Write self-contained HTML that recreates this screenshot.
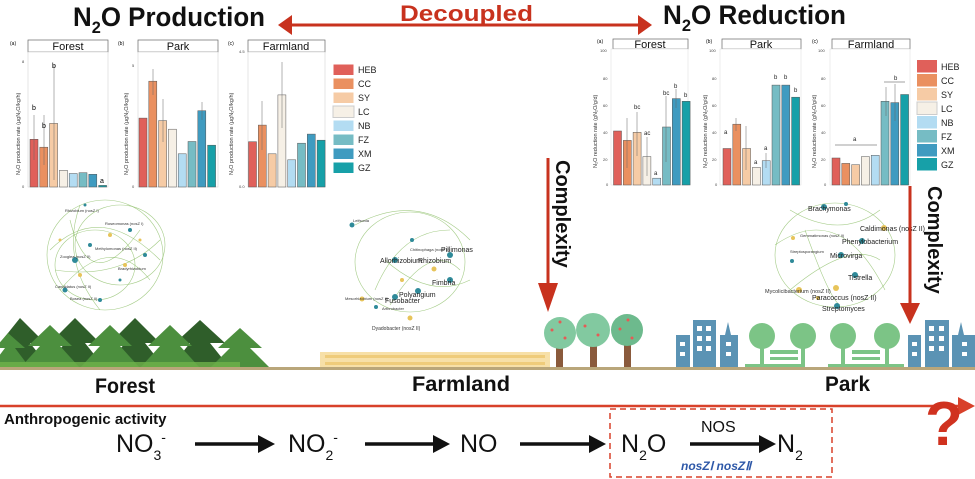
<!DOCTYPE html>
<html><head><meta charset="utf-8"><style>
html,body{margin:0;padding:0;background:#fff}
svg{display:block}
text{font-family:"Liberation Sans",sans-serif}
.ax{font-size:4px;fill:#444}
.hd{font-size:11px;fill:#111}
.lg{font-size:9px;fill:#222}
.b rect{stroke:#555;stroke-width:0.5}
.net path,.net ellipse{fill:none;stroke:#8fbf6a;stroke-width:0.6;opacity:.8}
.nt{font-family:"Liberation Serif",serif;font-size:4px;fill:#333}
.nb{font-family:"Liberation Serif",serif;font-size:7px;fill:#222}
</style></head><body>
<svg width="975" height="479" viewBox="0 0 975 479" xmlns="http://www.w3.org/2000/svg">
<!-- titles -->
<text x="73" y="26" font-size="27" font-weight="bold" fill="#111" textLength="192" lengthAdjust="spacingAndGlyphs">N<tspan font-size="17" dy="7">2</tspan><tspan dy="-7">O Production</tspan></text>
<text x="663" y="24" font-size="27" font-weight="bold" fill="#111" textLength="183" lengthAdjust="spacingAndGlyphs">N<tspan font-size="17" dy="7">2</tspan><tspan dy="-7">O Reduction</tspan></text>
<text x="400" y="21" font-size="22" font-weight="bold" fill="#c8321e" textLength="133" lengthAdjust="spacingAndGlyphs">Decoupled</text>
<line x1="290" y1="25" x2="640" y2="25" stroke="#c8321e" stroke-width="3"/>
<polygon points="278,25 292,15 292,35" fill="#c8321e"/>
<polygon points="652,25 638,15 638,35" fill="#c8321e"/>

<!-- LEFT CHARTS -->
<g>
<text x="10" y="45" font-size="5">(a)</text><text x="118" y="45" font-size="5">(b)</text><text x="228" y="45" font-size="5">(c)</text>
<rect x="28" y="40" width="80" height="12" fill="#fff" stroke="#666" stroke-width="0.7"/><text x="68" y="50" class="hd" text-anchor="middle">Forest</text>
<rect x="138" y="40" width="80" height="12" fill="#fff" stroke="#666" stroke-width="0.7"/><text x="178" y="50" class="hd" text-anchor="middle">Park</text>
<rect x="248" y="40" width="77" height="12" fill="#fff" stroke="#666" stroke-width="0.7"/><text x="286" y="50" class="hd" text-anchor="middle">Farmland</text>
<rect x="28" y="52" width="80" height="135" fill="#fff" stroke="#ccc" stroke-width="0.5"/>
<rect x="138" y="52" width="80" height="135" fill="#fff" stroke="#ccc" stroke-width="0.5"/>
<rect x="248" y="52" width="77" height="135" fill="#fff" stroke="#ccc" stroke-width="0.5"/>
<text transform="translate(20,175) rotate(-90)" font-size="5.5" fill="#333">N₂O production rate (μgN₂O/kg/h)</text>
<text transform="translate(128,175) rotate(-90)" font-size="5.5" fill="#333">N₂O production rate (μgN₂O/kg/h)</text>
<text transform="translate(233,175) rotate(-90)" font-size="5.5" fill="#333">N₂O production rate (μgN₂O/kg/h)</text>
<g class="b">
<rect x="30" y="139.3" width="8" height="47.7" fill="#e0605a"/><rect x="39.8" y="147.2" width="8" height="39.8" fill="#ea9060"/><rect x="49.6" y="123.4" width="8" height="63.6" fill="#f6cba5"/><rect x="59.4" y="170.3" width="8" height="16.7" fill="#f6f0e6"/><rect x="69.2" y="173.5" width="8" height="13.5" fill="#b3dcf2"/><rect x="79" y="172.7" width="8" height="14.3" fill="#76bcc4"/><rect x="88.8" y="174.3" width="8" height="12.7" fill="#3f9bc0"/><rect x="98.6" y="185.4" width="8" height="1.6" fill="#17a0a8"/>
<rect x="139" y="118.1" width="8" height="68.9" fill="#e0605a"/><rect x="148.8" y="81.2" width="8" height="105.8" fill="#ea9060"/><rect x="158.6" y="120.6" width="8" height="66.4" fill="#f6cba5"/><rect x="168.4" y="129.2" width="8" height="57.8" fill="#f6f0e6"/><rect x="178.2" y="153.8" width="8" height="33.2" fill="#b3dcf2"/><rect x="188" y="141.5" width="8" height="45.5" fill="#76bcc4"/><rect x="197.8" y="110.7" width="8" height="76.3" fill="#3f9bc0"/><rect x="207.6" y="145.2" width="8" height="41.8" fill="#17a0a8"/>
<rect x="248.5" y="141.7" width="8" height="45.3" fill="#e0605a"/><rect x="258.3" y="125.1" width="8" height="61.9" fill="#ea9060"/><rect x="268.1" y="153.8" width="8" height="33.2" fill="#f6cba5"/><rect x="277.9" y="94.9" width="8" height="92.1" fill="#f6f0e6"/><rect x="287.7" y="159.8" width="8" height="27.2" fill="#b3dcf2"/><rect x="297.5" y="143.2" width="8" height="43.8" fill="#76bcc4"/><rect x="307.3" y="134.1" width="8" height="52.9" fill="#3f9bc0"/><rect x="317.1" y="140.2" width="8" height="46.8" fill="#17a0a8"/>
</g>
<g stroke="#666" stroke-width="0.5">
<line x1="34" y1="115" x2="34" y2="160"/><line x1="44" y1="115" x2="44" y2="165"/><line x1="54" y1="65" x2="54" y2="180"/>
<line x1="153" y1="69" x2="153" y2="95"/><line x1="163" y1="99" x2="163" y2="142"/><line x1="202" y1="102" x2="202" y2="120"/>
<line x1="282" y1="62" x2="282" y2="128"/><line x1="262" y1="101" x2="262" y2="150"/>
</g>
<text x="32" y="110" font-size="7">b</text><text x="42" y="128" font-size="7">b</text><text x="52" y="68" font-size="7">b</text><text x="100" y="183" font-size="7">a</text>
<g class="ax"><text x="22" y="63">8</text><text x="22" y="188">0</text><text x="132" y="67">5</text><text x="132" y="188">0</text><text x="239" y="53">4.5</text><text x="239" y="188">0.0</text></g>
<g>
<rect x="333" y="64" width="21" height="11.5" fill="#e0605a" stroke="#fff"/><text x="358" y="73" class="lg">HEB</text>
<rect x="333" y="78" width="21" height="11.5" fill="#ea9060" stroke="#fff"/><text x="358" y="87" class="lg">CC</text>
<rect x="333" y="92" width="21" height="11.5" fill="#f6cba5" stroke="#fff"/><text x="358" y="101" class="lg">SY</text>
<rect x="333" y="106" width="21" height="11.5" fill="#f6f0e6" stroke="#ccc"/><text x="358" y="115" class="lg">LC</text>
<rect x="333" y="120" width="21" height="11.5" fill="#b3dcf2" stroke="#fff"/><text x="358" y="129" class="lg">NB</text>
<rect x="333" y="134" width="21" height="11.5" fill="#76bcc4" stroke="#fff"/><text x="358" y="143" class="lg">FZ</text>
<rect x="333" y="148" width="21" height="11.5" fill="#3f9bc0" stroke="#fff"/><text x="358" y="157" class="lg">XM</text>
<rect x="333" y="162" width="21" height="11.5" fill="#17a0a8" stroke="#fff"/><text x="358" y="171" class="lg">GZ</text>
</g>
</g>

<!-- RIGHT CHARTS -->
<g>
<text x="597" y="43" font-size="5">(a)</text><text x="706" y="43" font-size="5">(b)</text><text x="812" y="43" font-size="5">(c)</text>
<rect x="613" y="39" width="75" height="10" fill="#fff" stroke="#666" stroke-width="0.7"/><text x="650" y="48" class="hd" text-anchor="middle">Forest</text>
<rect x="722" y="39" width="79" height="10" fill="#fff" stroke="#666" stroke-width="0.7"/><text x="761" y="48" class="hd" text-anchor="middle">Park</text>
<rect x="832" y="39" width="78" height="10" fill="#fff" stroke="#666" stroke-width="0.7"/><text x="871" y="48" class="hd" text-anchor="middle">Farmland</text>
<rect x="611" y="49" width="77" height="136" fill="#fff" stroke="#ddd" stroke-width="0.5"/>
<rect x="720" y="49" width="81" height="136" fill="#fff" stroke="#ddd" stroke-width="0.5"/>
<rect x="830" y="49" width="80" height="136" fill="#fff" stroke="#ddd" stroke-width="0.5"/>
<text transform="translate(597,168) rotate(-90)" font-size="5.5" fill="#333">N₂O reduction rate (gN₂O/g/d)</text>
<text transform="translate(707,168) rotate(-90)" font-size="5.5" fill="#333">N₂O reduction rate (gN₂O/g/d)</text>
<text transform="translate(816,168) rotate(-90)" font-size="5.5" fill="#333">N₂O reduction rate (gN₂O/g/d)</text>
<g class="ax"><text x="600" y="52">100</text><text x="603" y="80">80</text><text x="603" y="107">60</text><text x="603" y="134">40</text><text x="603" y="161">20</text><text x="606" y="186">0</text>
<text x="709" y="52">100</text><text x="712" y="80">80</text><text x="712" y="107">60</text><text x="712" y="134">40</text><text x="712" y="161">20</text><text x="715" y="186">0</text>
<text x="818" y="52">100</text><text x="821" y="80">80</text><text x="821" y="107">60</text><text x="821" y="134">40</text><text x="821" y="161">20</text><text x="824" y="186">0</text></g>
<g class="b">
<rect x="613.5" y="131" width="8" height="54" fill="#e0605a"/><rect x="623.3" y="140.4" width="8" height="44.6" fill="#ea9060"/><rect x="633.1" y="132.3" width="8" height="52.7" fill="#f6cba5"/><rect x="642.9" y="156.6" width="8" height="28.4" fill="#f6f0e6"/><rect x="652.7" y="178.2" width="8" height="6.8" fill="#b3dcf2"/><rect x="662.5" y="127" width="8" height="58" fill="#76bcc4"/><rect x="672.3" y="98.6" width="8" height="86.4" fill="#3f9bc0"/><rect x="682.1" y="101.3" width="8" height="83.7" fill="#17a0a8"/>
<rect x="723" y="148.5" width="8" height="36.5" fill="#e0605a"/><rect x="732.8" y="124.2" width="8" height="60.8" fill="#ea9060"/><rect x="742.6" y="148.5" width="8" height="36.5" fill="#f6cba5"/><rect x="752.4" y="167.4" width="8" height="17.6" fill="#f6f0e6"/><rect x="762.2" y="160.7" width="8" height="24.3" fill="#b3dcf2"/><rect x="772" y="85.1" width="8" height="99.9" fill="#76bcc4"/><rect x="781.8" y="85.1" width="8" height="99.9" fill="#3f9bc0"/><rect x="791.6" y="97.2" width="8" height="87.8" fill="#17a0a8"/>
<rect x="832" y="158" width="8" height="27" fill="#e0605a"/><rect x="841.8" y="163.4" width="8" height="21.6" fill="#ea9060"/><rect x="851.6" y="164.7" width="8" height="20.3" fill="#f6cba5"/><rect x="861.4" y="156.6" width="8" height="28.4" fill="#f6f0e6"/><rect x="871.2" y="155.3" width="8" height="29.7" fill="#b3dcf2"/><rect x="881" y="101.3" width="8" height="83.7" fill="#76bcc4"/><rect x="890.8" y="102.6" width="8" height="82.4" fill="#3f9bc0"/><rect x="900.6" y="94.5" width="8" height="90.5" fill="#17a0a8"/>
</g>
<g stroke="#666" stroke-width="0.5">
<line x1="627" y1="118" x2="627" y2="168"/><line x1="637" y1="112" x2="637" y2="156"/><line x1="647" y1="137" x2="647" y2="176"/><line x1="666" y1="96" x2="666" y2="162"/><line x1="676" y1="89" x2="676" y2="108"/>
<line x1="736" y1="118" x2="736" y2="131"/><line x1="746" y1="126" x2="746" y2="170"/><line x1="766" y1="153" x2="766" y2="168"/>
<line x1="886" y1="87" x2="886" y2="116"/><line x1="895" y1="84" x2="895" y2="121"/>
</g>
<g font-size="6" fill="#222"><text x="634" y="109">bc</text><text x="644" y="135">ac</text><text x="654" y="175">a</text><text x="663" y="95">bc</text><text x="674" y="88">b</text><text x="684" y="97">b</text>
<text x="724" y="134">a</text><text x="754" y="164">a</text><text x="764" y="150">a</text><text x="774" y="79">b</text><text x="784" y="79">b</text><text x="794" y="92">b</text>
<text x="853" y="141">a</text><text x="894" y="80">b</text></g>
<line x1="835" y1="145" x2="877" y2="145" stroke="#444" stroke-width="0.5"/><line x1="884" y1="82" x2="905" y2="82" stroke="#444" stroke-width="0.5"/>
<g>
<rect x="917" y="60" width="20" height="12.5" fill="#e0605a"/><text x="941" y="70" class="lg">HEB</text>
<rect x="917" y="74" width="20" height="12.5" fill="#ea9060"/><text x="941" y="84" class="lg">CC</text>
<rect x="917" y="88" width="20" height="12.5" fill="#f6cba5"/><text x="941" y="98" class="lg">SY</text>
<rect x="917" y="102" width="20" height="12.5" fill="#f6f0e6" stroke="#ccc"/><text x="941" y="112" class="lg">LC</text>
<rect x="917" y="116" width="20" height="12.5" fill="#b3dcf2"/><text x="941" y="126" class="lg">NB</text>
<rect x="917" y="130" width="20" height="12.5" fill="#76bcc4"/><text x="941" y="140" class="lg">FZ</text>
<rect x="917" y="144" width="20" height="12.5" fill="#3f9bc0"/><text x="941" y="154" class="lg">XM</text>
<rect x="917" y="158" width="20" height="12.5" fill="#17a0a8"/><text x="941" y="168" class="lg">GZ</text>
</g>
</g>

<!-- NETWORKS -->
<g class="net">
<ellipse cx="105" cy="255" rx="58" ry="55"/><ellipse cx="95" cy="265" rx="40" ry="35"/><ellipse cx="120" cy="245" rx="45" ry="40"/>
<path d="M50,250 Q100,200 160,260"/><path d="M60,290 Q110,230 150,280"/><path d="M70,220 Q90,300 140,230"/><path d="M55,270 Q120,280 160,240"/><path d="M80,205 Q60,260 100,310"/>
<ellipse cx="410" cy="262" rx="55" ry="50"/><path d="M355,225 Q420,190 470,240"/><path d="M385,260 Q430,300 470,280"/><path d="M375,290 Q400,230 450,230"/><path d="M390,305 Q430,240 460,270"/>
<ellipse cx="835" cy="255" rx="60" ry="52"/><path d="M790,210 Q840,240 880,210"/><path d="M790,290 Q850,240 880,260"/><path d="M805,230 Q830,300 840,305"/><path d="M775,245 Q840,200 885,290"/>
</g>
<g fill="#2f8a99">
<circle cx="75" cy="260" r="3"/><circle cx="90" cy="245" r="2"/><circle cx="65" cy="290" r="2.5"/><circle cx="130" cy="230" r="2"/><circle cx="145" cy="255" r="2"/><circle cx="100" cy="300" r="2"/><circle cx="85" cy="205" r="1.5"/><circle cx="120" cy="280" r="1.5"/>
<circle cx="352" cy="225" r="2.5"/><circle cx="395" cy="260" r="3"/><circle cx="412" cy="240" r="2"/><circle cx="450" cy="255" r="3"/><circle cx="450" cy="280" r="3"/><circle cx="395" cy="297" r="3"/><circle cx="418" cy="291" r="3"/><circle cx="376" cy="307" r="2"/>
<circle cx="824" cy="207" r="3"/><circle cx="846" cy="204" r="2"/><circle cx="862" cy="241" r="3"/><circle cx="841" cy="255" r="3"/><circle cx="855" cy="275" r="3"/><circle cx="837" cy="306" r="3"/><circle cx="792" cy="261" r="2"/>
</g>
<g fill="#e7c45a">
<circle cx="80" cy="275" r="2"/><circle cx="110" cy="235" r="2"/><circle cx="125" cy="265" r="2"/><circle cx="60" cy="240" r="1.5"/><circle cx="140" cy="240" r="1.5"/>
<circle cx="434" cy="269" r="2.5"/><circle cx="362" cy="299" r="2.5"/><circle cx="410" cy="318" r="2.5"/><circle cx="402" cy="280" r="2"/>
<circle cx="884" cy="228" r="3"/><circle cx="799" cy="290" r="3"/><circle cx="836" cy="288" r="3"/><circle cx="818" cy="298" r="2"/><circle cx="793" cy="238" r="2"/>
</g>
<g class="nt"><text x="60" y="258">Zooglea (nosZ II)</text><text x="95" y="250">Methylomonas (nosZ II)</text><text x="55" y="288">Candidatus (nosZ II)</text><text x="70" y="300">Bosea (nosZ II)</text><text x="105" y="225">Roseomonas (nosZ I)</text><text x="118" y="270">Bradyrhizobium</text><text x="65" y="212">Rhizobium (nosZ I)</text>
<text x="353" y="222">Leifsonia</text><text x="372" y="330" font-size="5">Dyadobacter (nosZ II)</text><text x="345" y="300">Mesorhizobium (nosZ II)</text><text x="410" y="251">Chitinophaga (nosZ II)</text><text x="382" y="310">Arthrobacter</text>
<text x="800" y="237">Gemmatimonas (nosZ II)</text><text x="765" y="293" font-size="5.5">Mycolicibacterium (nosZ II)</text><text x="790" y="253">Streptosporangium</text></g>
<g class="nb"><text x="380" y="263">Allorhizobium</text><text x="418" y="263">Rhizobium</text><text x="441" y="252">Pillimonas</text><text x="432" y="285">Fimbria</text><text x="399" y="297">Polyangium</text><text x="385" y="303">Fusobacter</text>
<text x="808" y="211">Brachymonas</text><text x="860" y="231">Caldimonas (nosZ II)</text><text x="842" y="244">Phenylobacterium</text><text x="830" y="258">Microvirga</text><text x="848" y="280">Tistrella</text><text x="812" y="300">Paracoccus (nosZ II)</text><text x="822" y="311">Streptomyces</text></g>

<!-- Complexity arrows -->
<line x1="548" y1="158" x2="548" y2="285" stroke="#c8321e" stroke-width="3"/><polygon points="538,283 558,283 548,312" fill="#c8321e"/>
<text transform="translate(556,160) rotate(90)" font-size="20" font-weight="bold" fill="#111">Complexity</text>
<line x1="910" y1="186" x2="910" y2="305" stroke="#c8321e" stroke-width="3"/><polygon points="900,303 920,303 910,324" fill="#c8321e"/>
<text transform="translate(928,186) rotate(90)" font-size="20" font-weight="bold" fill="#111">Complexity</text>

<!-- Landscape -->
<g>
<g fill="#2f5e2a">
<polygon points="20,318 45,343 30,343 50,368 -5,368 15,343 0,343"/><polygon points="75,318 100,343 85,343 105,368 45,368 65,343 50,343"/><polygon points="135,318 160,343 145,343 165,368 105,368 125,343 110,343"/><polygon points="200,320 225,343 210,343 230,368 170,368 190,343 175,343"/>
</g>
<g fill="#4c8f3e">
<polygon points="50,325 72,346 60,346 80,368 20,368 40,346 28,346"/><polygon points="110,325 132,346 120,346 140,368 80,368 100,346 88,346"/><polygon points="170,325 192,346 180,346 200,368 140,368 160,346 148,346"/><polygon points="240,328 262,348 250,348 270,368 210,368 230,348 218,348"/><polygon points="8,333 25,348 15,348 30,368 -10,368 5,348 -5,348"/>
</g>
<rect x="0" y="362" width="240" height="6" fill="#6fb24a" opacity=".8"/>
<rect x="320" y="352" width="230" height="16" fill="#f7e0a8"/>
<g fill="#e8b84e"><rect x="325" y="355" width="220" height="3" opacity=".5"/><rect x="325" y="362" width="220" height="3" opacity=".5"/></g>
<g><rect x="556" y="340" width="7" height="28" fill="#8a5a3c"/><rect x="590" y="340" width="7" height="28" fill="#8a5a3c"/><rect x="624" y="340" width="7" height="28" fill="#8a5a3c"/>
<circle cx="560" cy="333" r="16" fill="#82c9a0"/><circle cx="593" cy="330" r="17" fill="#82c9a0"/><circle cx="627" cy="330" r="16" fill="#6dba8d"/>
<g fill="#e65a55"><circle cx="552" cy="330" r="1.5"/><circle cx="565" cy="338" r="1.5"/><circle cx="585" cy="326" r="1.5"/><circle cx="598" cy="335" r="1.5"/><circle cx="620" cy="329" r="1.5"/><circle cx="632" cy="338" r="1.5"/><circle cx="560" cy="322" r="1.5"/><circle cx="628" cy="320" r="1.5"/></g></g>
<g fill="#5b93b4">
<rect x="676" y="335" width="14" height="33"/><rect x="693" y="320" width="23" height="48"/><polygon points="720,368 720,335 725,335 728,322 731,335 738,335 738,368"/>
<rect x="908" y="335" width="13" height="33"/><rect x="925" y="320" width="24" height="48"/><polygon points="952,368 952,335 958,335 961,322 964,335 975,335 975,368"/>
</g>
<g fill="#fff"><rect x="697" y="326" width="5" height="5"/><rect x="706" y="326" width="5" height="5"/><rect x="697" y="336" width="5" height="5"/><rect x="706" y="336" width="5" height="5"/><rect x="697" y="346" width="5" height="5"/><rect x="706" y="346" width="5" height="5"/><rect x="680" y="342" width="5" height="4"/><rect x="680" y="352" width="5" height="4"/><rect x="726" y="342" width="5" height="4"/><rect x="726" y="352" width="5" height="4"/>
<rect x="929" y="326" width="5" height="5"/><rect x="939" y="326" width="5" height="5"/><rect x="929" y="336" width="5" height="5"/><rect x="939" y="336" width="5" height="5"/><rect x="929" y="346" width="5" height="5"/><rect x="939" y="346" width="5" height="5"/><rect x="912" y="342" width="5" height="4"/><rect x="912" y="352" width="5" height="4"/><rect x="962" y="342" width="5" height="4"/><rect x="962" y="352" width="5" height="4"/></g>
<g fill="#7cc486">
<circle cx="762" cy="336" r="13"/><circle cx="803" cy="336" r="13"/><circle cx="843" cy="336" r="13"/><circle cx="887" cy="336" r="13"/>
<rect x="760" y="345" width="4" height="21"/><rect x="801" y="345" width="4" height="21"/><rect x="841" y="345" width="4" height="21"/><rect x="885" y="345" width="4" height="21"/>
<rect x="770" y="350" width="28" height="4"/><rect x="770" y="357" width="28" height="3"/><rect x="852" y="350" width="28" height="4"/><rect x="852" y="357" width="28" height="3"/>
<rect x="745" y="364" width="60" height="4"/><rect x="828" y="364" width="76" height="4"/>
</g>
<rect x="0" y="367" width="975" height="3" fill="#b9a67a"/>
</g>

<g font-family="'Liberation Sans Narrow','Liberation Sans',sans-serif" font-weight="bold" font-size="21" fill="#111">
<text x="95" y="393" textLength="60" lengthAdjust="spacingAndGlyphs">Forest</text>
<text x="412" y="391" textLength="98" lengthAdjust="spacingAndGlyphs">Farmland</text>
<text x="825" y="391" textLength="45" lengthAdjust="spacingAndGlyphs">Park</text>
</g>
<line x1="0" y1="406" x2="960" y2="406" stroke="#d8412a" stroke-width="2.5"/>
<polygon points="975,406 958,397 958,415" fill="#d8412a"/>
<text x="925" y="445" font-size="62" font-weight="bold" fill="#d0321f">?</text>
<text x="4" y="424" font-size="15" font-weight="bold" fill="#111">Anthropogenic activity</text>

<g font-size="25" fill="#111" font-family="'Liberation Sans Narrow','Liberation Sans',sans-serif">
<text x="116" y="452">NO<tspan font-size="14" dy="8">3</tspan><tspan font-size="14" dy="-18">-</tspan></text>
<text x="288" y="452">NO<tspan font-size="14" dy="8">2</tspan><tspan font-size="14" dy="-18">-</tspan></text>
<text x="460" y="452">NO</text>
<text x="621" y="452">N<tspan font-size="14" dy="8">2</tspan><tspan dy="-8">O</tspan></text>
<text x="777" y="452">N<tspan font-size="14" dy="8">2</tspan></text>
<text x="701" y="432" font-size="16">NOS</text>
</g>
<g stroke="#111" stroke-width="3.5"><line x1="195" y1="444" x2="262" y2="444"/><line x1="365" y1="444" x2="436" y2="444"/><line x1="520" y1="444" x2="592" y2="444"/><line x1="690" y1="444" x2="762" y2="444"/></g>
<g fill="#111"><polygon points="275,444 258,435 258,453"/><polygon points="450,444 433,435 433,453"/><polygon points="606,444 589,435 589,453"/><polygon points="776,444 759,435 759,453"/></g>
<text x="681" y="470" font-size="12" font-weight="bold" font-style="italic" fill="#2e58a8">nosZⅠ nosZⅡ</text>
<rect x="610" y="409" width="222" height="68" fill="none" stroke="#d8412a" stroke-width="1.5" stroke-dasharray="6,4"/>
</svg>
</body></html>
